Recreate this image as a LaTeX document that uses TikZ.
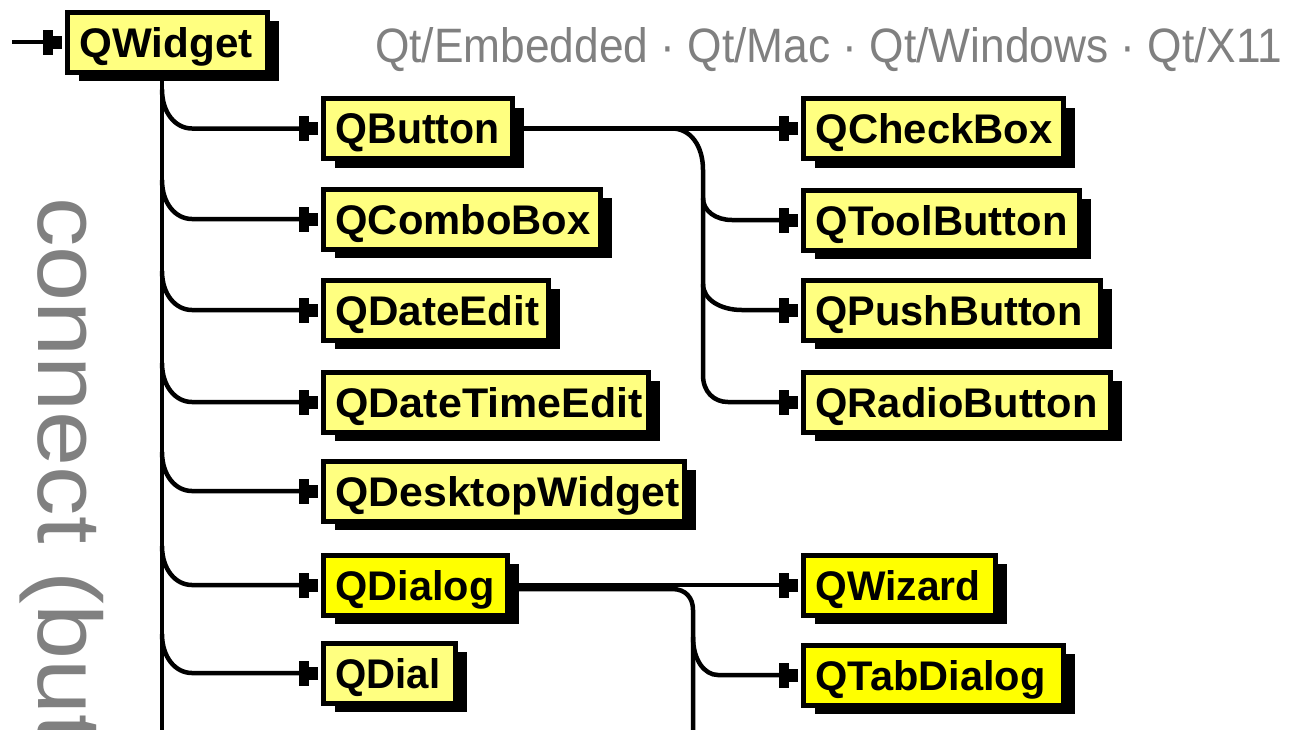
\documentclass[tikz,border=0pt]{standalone}
\usepackage{graphicx}
\usepackage{fontspec}
\setmainfont{Liberation Sans}
\usetikzlibrary{arrows.meta,shadows,calc}

\definecolor{paleyellow}{RGB}{255,255,128}
\definecolor{brightyellow}{RGB}{255,255,0}
\definecolor{labelgray}{RGB}{128,128,128}

\tikzset{
  cls/.style={draw=black, line width=5pt, fill=paleyellow, inner sep=0pt,
    minimum height=60pt, text height=30pt, text depth=0pt, anchor=west,
    drop shadow={shadow xshift=12pt, shadow yshift=-9pt, fill=black, opacity=1}},
  hot/.style={cls, fill=brightyellow},
  link/.style={line width=4.5pt, line cap=butt},
  arr/.style={link, shorten >=2.5pt,
    -{Rectangle[length=10pt,width=25pt,line width=0pt,sep=0pt]
      Rectangle[length=9pt,width=13pt,line width=0pt,sep=0pt]}},
  greytext/.style={inner sep=0pt, text=labelgray},
}

% class box: style, name, left edge, right edge, centre y, label width, label
\newcommand\classbox[7]{%
  \node[#1] (#2) at ({#3+2.5},#5)
    {\makebox[\dimexpr#4pt-#3pt-5pt\relax][l]{\hspace*{12.5pt}\resizebox{#6pt}{30pt}{\bfseries #7}}};}

% curved branch off a vertical spine: spine coordinate, child, drop, run
\newcommand\twig[4]{%
  \draw[arr] ($(#1 |- #2.west)+(0,-#3)$) .. controls +(0,{0.6*#3}) and +({-0.55*#4},0)
    .. ($(#1 |- #2.west)+(#4,0)$) -- (#2.west);}

\begin{document}
\begin{tikzpicture}[x=1pt,y=-1pt]
  \useasboundingbox (0,0) rectangle (1289,729);
  \fill[white] (0,0) rectangle (1289,729);
  \clip (0,0) rectangle (1289,729);

  % platform line and the rotated signal text
  \node[greytext, anchor=base west] (platforms) at (375,62)
    {\resizebox{907pt}{35pt}{Qt/Embedded · Qt/Mac · Qt/Windows · Qt/X11}};
  \node[greytext, anchor=base west, rotate=-90, font=\fontsize{90}{90}\selectfont] (signal) at (38,197)
    {\scalebox{1.1}[1]{connect (but}};

  % classes
  \classbox{cls}{qwidget}{62}{267}{42}{173}{QWidget}
  \classbox{cls}{qbutton}{318}{512}{128.5}{164}{QButton}
  \classbox{cls}{qcombobox}{318}{600}{219}{255}{QComboBox}
  \classbox{cls}{qdateedit}{318}{548}{310}{204}{QDateEdit}
  \classbox{cls}{qdatetimeedit}{318}{648}{402}{307}{QDateTimeEdit}
  \classbox{cls}{qdesktopwidget}{318}{684}{491}{344}{QDesktopWidget}
  \classbox{hot}{qdialog}{318}{507}{585}{159}{QDialog}
  \classbox{cls}{qdial}{318}{455}{673}{105}{QDial}
  \classbox{cls}{qcheckbox}{798}{1063}{128.5}{237}{QCheckBox}
  \classbox{cls}{qtoolbutton}{798}{1079}{220}{252}{QToolButton}
  \classbox{cls}{qpushbutton}{798}{1100}{310}{267}{QPushButton}
  \classbox{cls}{qradiobutton}{798}{1110}{402}{282}{QRadioButton}
  \classbox{hot}{qwizard}{798}{995}{585}{165}{QWizard}
  \classbox{hot}{qtabdialog}{798}{1063}{675}{230}{QTabDialog}

  % spine points
  \coordinate (entry) at (12,42);
  \coordinate (trunkend) at (162,740);
  \coordinate (bfork) at (672,0);
  \coordinate (bspinetop) at (703,170);
  \coordinate (bspinebot) at (703,375);
  \coordinate (dspinetop) at (693,610);
  \coordinate (dspinebot) at (693,740);

  % QWidget and its subclasses
  \draw[arr] (entry) -- (qwidget.west);
  \draw[link] (qwidget.south -| trunkend) -- (trunkend);
  \twig{trunkend}{qbutton}{39}{30}
  \twig{trunkend}{qcombobox}{39}{30}
  \twig{trunkend}{qdateedit}{39}{30}
  \twig{trunkend}{qdatetimeedit}{39}{30}
  \twig{trunkend}{qdesktopwidget}{39}{30}
  \twig{trunkend}{qdialog}{39}{30}
  \twig{trunkend}{qdial}{39}{30}

  % QButton subclasses
  \draw[arr] (qbutton.east) -- (qcheckbox.west);
  \draw[arr] (bfork |- qbutton.east) .. controls +(18,0) and +(0,-25) .. (bspinetop)
    -- (bspinebot) .. controls +(0,17) and +(-14,0) .. ($(bspinebot |- qradiobutton.west)+(25,0)$)
    -- (qradiobutton.west);
  \twig{bspinetop}{qtoolbutton}{22}{29}
  \twig{bspinetop}{qpushbutton}{26}{39}

  % QDialog subclasses
  \draw[arr] (qdialog.east) -- (qwizard.west);
  \draw[link] ($(qdialog.east)+(0,4)$) -- ($(dspinetop |- qdialog.east)+(-21,4)$)
    .. controls +(14,0) and +(0,-12) .. (dspinetop) -- (dspinebot);
  \twig{dspinetop}{qtabdialog}{38}{25}
\end{tikzpicture}
\end{document}
